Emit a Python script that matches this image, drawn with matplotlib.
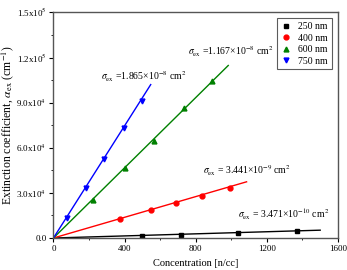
import matplotlib
matplotlib.use("Agg")
import matplotlib.pyplot as plt
from matplotlib.ticker import MultipleLocator, FixedLocator, FixedFormatter

plt.rcParams['font.family'] = ['Liberation Serif', 'DejaVu Serif']
plt.rcParams['mathtext.fontset'] = 'stix'

# data (concentration, extinction coefficient in cm^-1)
labels = ["250 nm", "400 nm", "600 nm", "750 nm"]
colors = ["black", "red", "green", "blue"]
markers = ["s", "o", "^", "v"]

conc_250 = [497, 716, 1036, 1367]
alpha_250 = [1600, 2300, 3500, 4900]
conc_400 = [374, 546, 691, 834, 991]
alpha_400 = [12400, 18400, 23500, 27900, 33400]
conc_600 = [225, 403, 566, 734, 891]
alpha_600 = [25200, 46300, 64700, 86600, 104400]
conc_750 = [75, 182, 286, 396, 497]
alpha_750 = [13100, 33000, 52500, 72900, 91200]

# fitted slopes (sigma x 1e10) and end of fitted line
slopes = [3.471, 34.41, 116.7, 186.5]
line_end = [1500, 1086, 983, 547]

sigma_text = [r"$\sigma_{\rm ex}$ = 3.471×10$^{-10}$ cm$^{2}$",
              r"$\sigma_{\rm ex}$ = 3.441×10$^{-9}$ cm$^{2}$",
              r"$\sigma_{\rm ex}$ =1.167×10$^{-8}$ cm$^{2}$",
              r"$\sigma_{\rm ex}$ =1.865×10$^{-8}$ cm$^{2}$"]
text_pos = [(1040, 13300), (840, 41900), (755, 121600), (265, 105000)]

ytick_vals = [0, 30000, 60000, 90000, 120000, 150000]
ytick_labels = ["0.0", r"3.0x10$^{4}$", r"6.0x10$^{4}$", r"9.0x10$^{4}$",
                r"1.2x10$^{5}$", r"1.5x10$^{5}$"]

fig = plt.figure(figsize=(3.47, 2.70), dpi=100)
ax = fig.add_axes([0.154, 0.1185, 0.82, 0.8355])

xs_all = [conc_250, conc_400, conc_600, conc_750]
ys_all = [alpha_250, alpha_400, alpha_600, alpha_750]
for xs, ys, s, xe, c, m, lab in zip(xs_all, ys_all, slopes, line_end, colors, markers, labels):
    ax.plot([0, xe], [0, s * xe], color=c, lw=1.0)
    ax.plot(xs, ys, ls="none", marker=m, color=c, ms=3.5, label=lab)

for t, (tx, ty) in zip(sigma_text, text_pos):
    ax.text(tx, ty, t, fontsize=7, ha="left", va="baseline")

ax.set_xlim(0, 1600)
ax.set_ylim(0, 150000)
ax.xaxis.set_major_locator(MultipleLocator(400))
ax.xaxis.set_minor_locator(MultipleLocator(200))
ax.yaxis.set_major_locator(FixedLocator(ytick_vals))
ax.yaxis.set_major_formatter(FixedFormatter(ytick_labels))
ax.yaxis.set_minor_locator(MultipleLocator(15000))
ax.tick_params(which="both", direction="out", labelsize=6.5, top=False, right=False)
ax.tick_params(which="major", length=3, pad=2)
ax.tick_params(which="minor", length=1.5)
for sp in ax.spines.values():
    sp.set_color("#555555")
    sp.set_linewidth(1.0)

ax.set_xlabel("Concentration [n/cc]", fontsize=7.5)
ax.xaxis.set_label_coords(0.5, -0.092)
ax.set_ylabel(r"Extinction coefficient, $\alpha_{\rm ex}$ (cm$^{-1}$)", fontsize=8.5)
ax.yaxis.set_label_coords(-0.133, 0.5)

leg = ax.legend(loc="upper right", fontsize=7, frameon=True, fancybox=False,
                edgecolor="#333333", handletextpad=0.6, borderpad=0.4,
                labelspacing=0.25, handlelength=1.2, bbox_to_anchor=(0.995, 0.995))
leg.get_frame().set_linewidth(0.8)

fig.savefig("out.png", dpi=100)
